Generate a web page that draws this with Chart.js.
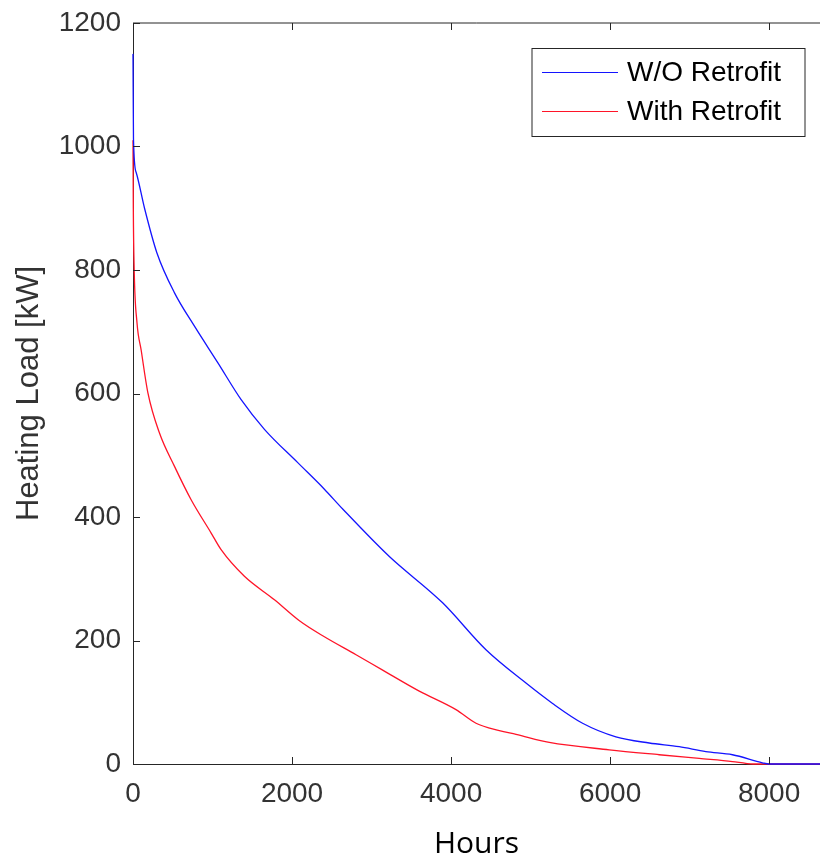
<!DOCTYPE html>
<html>
<head>
<meta charset="utf-8">
<script src="https://cdn.jsdelivr.net/npm/chart.js@4/dist/chart.umd.min.js"></script>
<style>
  html, body { margin: 0; padding: 0; background: #fff; }
  #wrap { width: 820px; height: 856px; position: relative; }
</style>
</head>
<body>
<div id="wrap"><canvas id="chart"></canvas></div>
<script>
// Load duration curves
const seriesLabels = ['W/O Retrofit', 'With Retrofit'];
const seriesColors = ['rgb(20, 20, 255)', 'rgb(255, 20, 40)'];

const woHours = [0, 6, 40, 145, 300, 522, 773, 1066, 1360, 1653, 2072, 2407, 2637, 3224, 3894, 4439, 4942, 5277, 5654, 6073, 6492, 6869, 7204, 7539, 7916, 8000, 8640];
const woLoad  = [1150, 1012, 958, 900, 828, 763, 709, 650, 590, 542, 488, 445, 413, 336, 261, 185, 131, 98, 66, 44, 34, 28, 20, 15, 2, 0, 0];

const withHours = [0, 4, 15, 50, 103, 186, 333, 522, 731, 983, 1108, 1401, 1779, 2093, 2407, 2805, 3140, 3600, 4062, 4314, 4607, 4817, 5235, 5989, 6618, 7121, 7539, 7707, 7800, 8640];
const withLoad  = [1010, 900, 800, 715, 670, 602, 536, 482, 428, 374, 347, 304, 266, 232, 206, 177, 152, 118, 88, 66, 54, 48, 35, 23, 15, 9, 4, 1, 0, 0];

const xTicks = [0, 2000, 4000, 6000, 8000];
const yTicks = [0, 200, 400, 600, 800, 1000, 1200];

const X_MAX = 8640;
const AXIS = '#262626';
const TICK_FONT = { family: '"Liberation Sans", Arial, sans-serif', size: 28 };

function toPoints(xs, ys) {
  return xs.map((x, i) => ({ x, y: ys[i] }));
}

// MATLAB-style box: top edge plus inward tick marks
const axesFrame = {
  id: 'axesFrame',
  afterDatasetsDraw(chart) {
    const { ctx, chartArea: a, scales } = chart;
    const len = 7;
    ctx.save();
    ctx.strokeStyle = AXIS;
    ctx.lineWidth = 1;
    ctx.beginPath();
    ctx.moveTo(a.left, a.top);
    ctx.lineTo(a.right, a.top);
    xTicks.forEach(v => {
      const px = Math.round(scales.x.getPixelForValue(v)) + 0.5;
      ctx.moveTo(px, a.bottom);
      ctx.lineTo(px, a.bottom - len);
      ctx.moveTo(px, a.top);
      ctx.lineTo(px, a.top + len);
    });
    yTicks.forEach(v => {
      const py = Math.round(scales.y.getPixelForValue(v)) + 0.5;
      ctx.moveTo(a.left, py);
      ctx.lineTo(a.left + len, py);
    });
    ctx.stroke();
    ctx.restore();
  },
};

// Boxed legend in the upper right corner of the axes
const boxLegend = {
  id: 'boxLegend',
  afterDraw(chart) {
    const { ctx, chartArea: a } = chart;
    const box = { x: a.right - 288, y: a.top + 25.5, w: 273, h: 88 };
    ctx.save();
    ctx.fillStyle = '#fff';
    ctx.fillRect(box.x, box.y, box.w, box.h);
    ctx.strokeStyle = AXIS;
    ctx.lineWidth = 1;
    ctx.strokeRect(box.x, box.y, box.w, box.h);
    ctx.font = '28px "Liberation Sans", Arial, sans-serif';
    ctx.textBaseline = 'middle';
    chart.data.datasets.forEach((ds, i) => {
      const cy = box.y + 24 + i * 39;
      ctx.strokeStyle = ds.borderColor;
      ctx.lineWidth = 1.2;
      ctx.beginPath();
      ctx.moveTo(box.x + 10, cy);
      ctx.lineTo(box.x + 86, cy);
      ctx.stroke();
      ctx.fillStyle = '#000';
      ctx.fillText(ds.label, box.x + 95, cy + 1);
    });
    ctx.restore();
  },
};

new Chart(document.getElementById('chart'), {
  type: 'line',
  data: {
    datasets: [
      {
        label: seriesLabels[0],
        data: toPoints(woHours, woLoad),
        borderColor: seriesColors[0],
        borderWidth: 1.3,
        pointRadius: 0,
        cubicInterpolationMode: 'monotone',
        clip: false,
      },
      {
        label: seriesLabels[1],
        data: toPoints(withHours, withLoad),
        borderColor: seriesColors[1],
        borderWidth: 1.3,
        pointRadius: 0,
        cubicInterpolationMode: 'monotone',
        clip: false,
      },
    ],
  },
  options: {
    responsive: true,
    maintainAspectRatio: false,
    animation: false,
    layout: { padding: { top: 23, right: 0, left: 0, bottom: 0 } },
    plugins: {
      legend: { display: false },
      tooltip: { enabled: false },
    },
    scales: {
      x: {
        type: 'linear',
        min: 0,
        max: X_MAX,
        afterBuildTicks: s => { s.ticks = xTicks.map(v => ({ value: v })); },
        afterFit: s => { s.height = 92; s.paddingLeft = 0; s.paddingRight = 0; },
        grid: { display: false, drawTicks: false },
        border: { display: true, color: AXIS, width: 1 },
        ticks: { font: TICK_FONT, color: '#333', padding: 13, maxRotation: 0, callback: v => String(v) },
        title: {
          display: true,
          text: 'Hours',
          color: '#000',
          font: { family: '"Open Sans", sans-serif', size: 30 },
          padding: { top: 0, bottom: -6 },
        },
      },
      y: {
        min: 0,
        max: 1200,
        afterBuildTicks: s => { s.ticks = yTicks.map(v => ({ value: v })); },
        afterFit: s => { s.width = 133; s.paddingTop = 0; s.paddingBottom = 0; },
        grid: { display: false, drawTicks: false },
        border: { display: true, color: AXIS, width: 1 },
        ticks: { font: TICK_FONT, color: '#333', padding: 12, callback: v => String(v) },
        title: {
          display: true,
          text: 'Heating Load [kW]',
          color: '#333',
          font: { family: '"Liberation Sans", Arial, sans-serif', size: 31 },
          padding: { top: 11, bottom: 0 },
        },
      },
    },
  },
  plugins: [axesFrame, boxLegend],
});
</script>
</body>
</html>
